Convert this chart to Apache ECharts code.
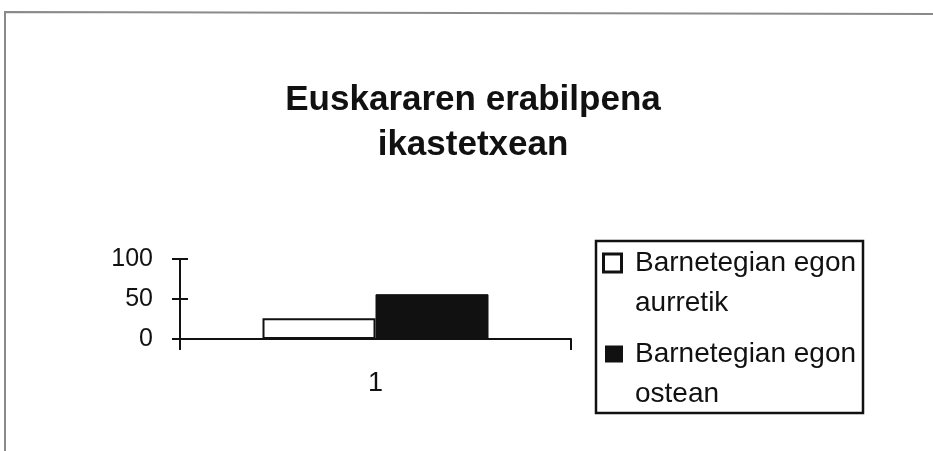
<!DOCTYPE html>
<html>
<head>
<meta charset="utf-8">
<script src="https://cdn.jsdelivr.net/npm/echarts@6/dist/echarts.min.js"></script>
<style>
  html, body { margin: 0; padding: 0; background: #fff; }
  #chart { width: 933px; height: 451px; }
</style>
</head>
<body>
<div id="chart"></div>
<script>
// datuak
const categories = ['1'];
const seriesNames = ['Barnetegian egon\naurretik', 'Barnetegian egon\nostean'];
const valuesBefore = [26];
const valuesAfter = [56];
const yTicks = [0, 50, 100];

const FONT = 'Liberation Sans, Arial, sans-serif';
const INK = '#111';

let myChart = echarts.init(document.getElementById('chart'));

// legendako laukitxoa lehen lerroarekin lerrokatzeko rich testua
function legendLabel(name) {
    let i = seriesNames.indexOf(name);
    let lines = name.split('\n');
    let head = i === 0 ? '{sqA|}{spA|}' : '{sqB|}{spB|}';
    return head + lines[0] + '\n{ind|}' + lines.slice(1).join('\n');
}

let option = {
    backgroundColor: '#fff',
    animation: false,
    title: {
        text: 'Euskararen erabilpena\nikastetxean',
        left: 468,
        top: 73,
        textAlign: 'center',
        textStyle: {
            fontFamily: FONT,
            fontSize: 35,
            fontWeight: 'bold',
            lineHeight: 45,
            color: INK,
        },
    },
    legend: {
        orient: 'vertical',
        left: 600,
        top: 243,
        padding: 0,
        itemGap: 11,
        itemWidth: 0,
        itemHeight: 16,
        icon: 'none',
        selectedMode: false,
        data: seriesNames,
        formatter: legendLabel,
        textStyle: {
            fontFamily: FONT,
            fontSize: 28,
            lineHeight: 40,
            color: INK,
            rich: {
                sqA: { width: 15, height: 15, backgroundColor: '#fff', borderColor: INK, borderWidth: 3 },
                sqB: { width: 18, height: 17, backgroundColor: INK },
                spA: { width: 15 },
                spB: { width: 12 },
                ind: { width: 30 },
            },
        },
    },
    grid: {
        left: 180,
        right: 362,
        top: 259,
        bottom: 112,
    },
    xAxis: {
        type: 'category',
        data: categories,
        boundaryGap: true,
        axisLine: { lineStyle: { color: INK, width: 2 } },
        axisTick: { show: true, interval: 0, alignWithLabel: false, length: 11, lineStyle: { color: INK, width: 2 } },
        axisLabel: { margin: 31, fontFamily: FONT, fontSize: 27, color: INK },
        splitLine: { show: false },
    },
    yAxis: [{
        type: 'value',
        min: yTicks[0],
        max: yTicks[yTicks.length - 1],
        interval: 50,
        axisLine: { show: true, lineStyle: { color: INK, width: 2 } },
        axisTick: { show: true, length: 8, lineStyle: { color: INK, width: 2 } },
        axisLabel: { margin: 27, fontFamily: FONT, fontSize: 25, color: INK },
        splitLine: { show: false },
    }, {
        // sartzen diren markak (ardatza gurutzatzen dute)
        type: 'value',
        position: 'left',
        min: yTicks[0],
        max: yTicks[yTicks.length - 1],
        interval: 50,
        axisLine: { show: false },
        axisTick: { show: true, inside: true, length: 8, lineStyle: { color: INK, width: 2 } },
        axisLabel: { show: false },
        splitLine: { show: false },
    }],
    series: [{
        type: 'bar',
        name: seriesNames[0],
        data: valuesBefore,
        barWidth: 113,
        barGap: '0%',
        itemStyle: { color: '#fff', borderColor: INK, borderWidth: 2 },
    }, {
        type: 'bar',
        name: seriesNames[1],
        data: valuesAfter,
        barWidth: 113,
        barGap: '0%',
        itemStyle: { color: INK, borderColor: INK, borderWidth: 1 },
    }],
    graphic: [{
        // kanpoko markoa (goian eta ezkerrean)
        type: 'polyline',
        silent: true,
        shape: { points: [[5, 451], [5, 12], [933, 14]] },
        style: { stroke: '#8a8a8a', lineWidth: 2, fill: null },
    }, {
        // legendaren kutxa
        type: 'rect',
        silent: true,
        shape: { x: 596, y: 241, width: 267, height: 172 },
        style: { stroke: INK, lineWidth: 2.5, fill: null },
    }],
};

myChart.setOption(option, true);
</script>
</body>
</html>
